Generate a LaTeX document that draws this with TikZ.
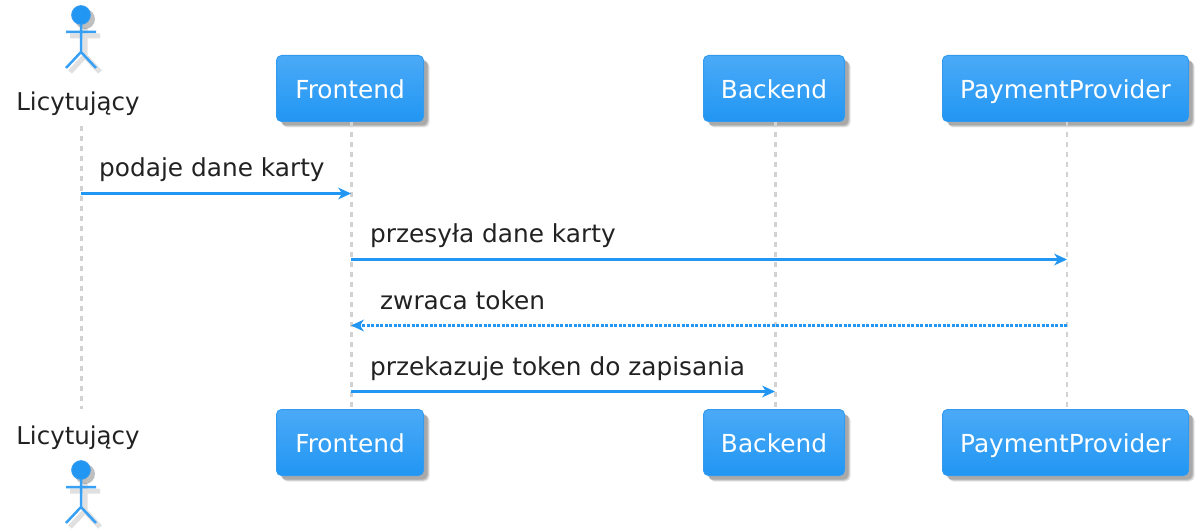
\documentclass[tikz,border=0pt]{standalone}
\usepackage{fontspec}
\setmainfont{DejaVu Sans}
\usetikzlibrary{arrows.meta,shadows}
\definecolor{msgblue}{RGB}{33,150,243}
\definecolor{boxtop}{RGB}{75,170,247}
\definecolor{boxedge}{RGB}{50,155,240}
\definecolor{lifegray}{RGB}{210,210,210}
\definecolor{textdark}{RGB}{34,34,34}

\begin{document}
\begin{tikzpicture}[
    x=1pt, y=-1pt,
    partbox/.style={rectangle, draw=boxedge, line width=1pt, top color=boxtop, bottom color=msgblue, rounded corners=5pt, minimum height=66pt, inner sep=0pt, text=white, font=\fontsize{24.8}{29}\selectfont, text height=20pt, text depth=0pt,
        drop shadow={shadow xshift=6pt, shadow yshift=-6pt, fill=black, opacity=.10},
        drop shadow={shadow xshift=5pt, shadow yshift=-5pt, fill=black, opacity=.14},
        drop shadow={shadow xshift=4pt, shadow yshift=-4pt, fill=black, opacity=.14}},
    actorname/.style={inner sep=0pt, text=textdark, font=\fontsize{24.5}{29}\selectfont},
    msgtext/.style={anchor=base west, inner sep=0pt, text=textdark, font=\fontsize{24.8}{29}\selectfont},
    lifeline/.style={lifegray, line width=2.5pt, dash pattern=on 5pt off 5pt},
    msg/.style={msgblue, line width=3pt, -{Stealth[length=13pt, width=12pt, inset=4pt, line width=0pt]}},
    msgback/.style={msgblue, line width=3pt, dash pattern=on 3pt off 1.5pt, -{Stealth[length=13pt, width=12pt, inset=4pt, line width=0pt]}}
]
    \useasboundingbox (0,0) rectangle (1201,529);

    % Actors
    \foreach \y/\n in {0/a,455/b} {
        \begin{scope}[yshift=-\y pt]
            \fill[black, opacity=.25] (85,19) circle (10pt);
            \draw[black, opacity=.12, line width=5pt] (70,36) -- (100,36) (85,28) -- (85,56) -- (70,72) (85,56) -- (100,72);
            \draw[msgblue!90!white, line width=2.5pt] (66,32) -- (96,32) (81,24) -- (81,52) -- (66,68) (81,52) -- (96,68);
            \fill[msgblue, draw=boxedge, line width=1pt] (81,15) circle (9.3pt);
        \end{scope}
    }
    \node[actorname] (actor1) at (78,104) {\vphantom{y}Licytujący};
    \node[actorname] (actor2) at (78,438) {\vphantom{y}Licytujący};
    \coordinate (atop) at (81.5,126);
    \coordinate (abot) at (81.5,409);

    % Participants
    \node[partbox, minimum width=147pt] (front1) at (350,88.5) {Frontend};
    \node[partbox, minimum width=141pt] (back1) at (774,88.5) {Backend};
    \node[partbox, minimum width=246pt] (pay1) at (1065.5,88.5) {PaymentProvider};
    \node[partbox, minimum width=147pt] (front2) at (350,442.5) {Frontend};
    \node[partbox, minimum width=141pt] (back2) at (774,442.5) {Backend};
    \node[partbox, minimum width=246pt] (pay2) at (1065.5,442.5) {PaymentProvider};

    % Lifelines
    \draw[lifeline] (atop) -- (abot);
    \foreach \p in {front,back,pay} \draw[lifeline] ([xshift=1.5pt]\p1.south) -- ([xshift=1.5pt]\p2.north);

    % Message ends
    \coordinate (m1a) at (81,193.5);
    \coordinate (m1f) at (351,193.5);
    \coordinate (m2f) at (351,259.5);
    \coordinate (m2p) at (1067,259.5);
    \coordinate (m3p) at (1067,325.5);
    \coordinate (m3f) at (351,325.5);
    \coordinate (m4f) at (351,391.5);
    \coordinate (m4b) at (775,391.5);

    % Messages
    \draw[msg] (m1a) -- (m1f);
    \draw[msg] (m2f) -- (m2p);
    \draw[msgback] (m3p) -- (m3f);
    \draw[msg] (m4f) -- (m4b);

    \node[msgtext] (t1) at (99,177) {podaje dane karty};
    \node[msgtext] (t2) at (370,243) {przesyła dane karty};
    \node[msgtext] (t3) at (380,309) {zwraca token};
    \node[msgtext] (t4) at (370,375) {przekazuje token do zapisania};
\end{tikzpicture}
\end{document}
